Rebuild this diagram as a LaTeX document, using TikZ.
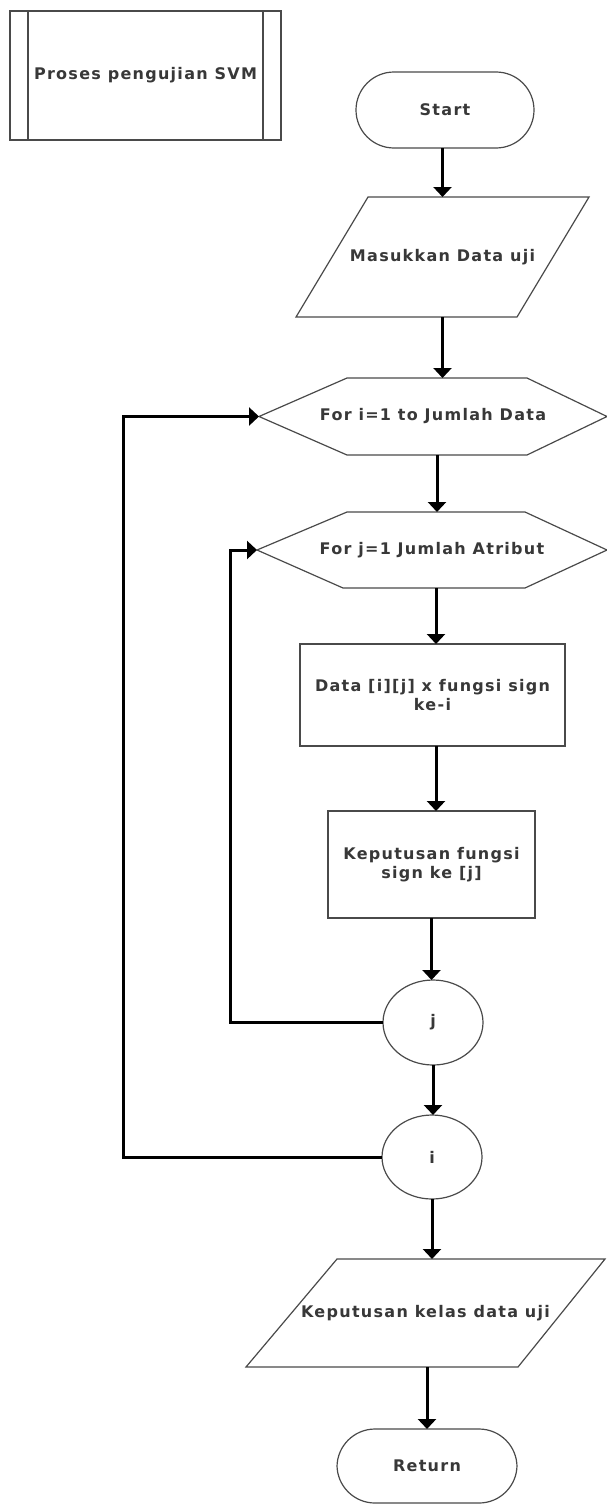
\documentclass[tikz,border=0pt]{standalone}
\usepackage{fontspec}
\newfontfamily\lblfont{DejaVu Sans}[LetterSpace=8]
\usetikzlibrary{arrows.meta,shapes.geometric}
\definecolor{edge}{HTML}{4A4A4A}
\definecolor{ink}{HTML}{383838}
\tikzset{
  base/.style={inner sep=0pt, outer sep=0pt, align=center, text=ink,
    font=\lblfont\bfseries\fontsize{16}{18.5}\selectfont},
  outline/.style={draw=edge, line width=1.2pt},
  box/.style={base, outline, rectangle},
  term/.style={base, outline, rectangle, rounded corners=38pt},
  conn/.style={base, outline, ellipse},
  flow/.style={line width=3pt, black,
    -{Triangle[length=10pt,width=18pt]}},
}
\begin{document}
\begin{tikzpicture}[x=1pt,y=-1pt]
\useasboundingbox (0,0) rectangle (607,1504);
\fill[white] (0,0) rectangle (607,1504);

% predefined process (subroutine header)
\node[box, minimum width=271, minimum height=129] (proc) at (145.5,75.5) {Proses pengujian SVM};
\draw[outline] ([xshift=18pt]proc.north west) -- ([xshift=18pt]proc.south west);
\draw[outline] ([xshift=-18pt]proc.north east) -- ([xshift=-18pt]proc.south east);

% terminator
\node[term, minimum width=178, minimum height=76] (start) at (445,110) {Start};

% input
\node[base, minimum width=293, minimum height=120] (inp) at (442.5,257) {Masukkan Data uji};
\draw[outline] ([xshift=72pt]inp.north west) -- (inp.north east)
  -- ([xshift=-72pt]inp.south east) -- (inp.south west) -- cycle;

% outer loop
\node[base, minimum width=348, minimum height=77] (hexi) at (433,416.5) {For i=1 to Jumlah Data};
\draw[outline] (hexi.west) -- ([xshift=88pt]hexi.north west) -- ([xshift=-80pt]hexi.north east)
  -- (hexi.east) -- ([xshift=-80pt]hexi.south east) -- ([xshift=88pt]hexi.south west) -- cycle;

% inner loop
\node[base, minimum width=350, minimum height=76] (hexj) at (432,550) {For j=1 Jumlah Atribut};
\draw[outline] (hexj.west) -- ([xshift=90pt]hexj.north west) -- ([xshift=-82pt]hexj.north east)
  -- (hexj.east) -- ([xshift=-82pt]hexj.south east) -- ([xshift=86pt]hexj.south west) -- cycle;

% processes
\node[box, minimum width=265, minimum height=102] (calc) at (432.5,695) {Data [i][j] x fungsi sign\\ke-i};
\node[box, minimum width=207, minimum height=107] (dec) at (431.5,864.5) {Keputusan fungsi\\sign ke [j]};

% loop ends
\node[conn, minimum width=100, minimum height=85] (nj) at (433,1022.5) {j};
\node[conn, minimum width=100, minimum height=84] (ni) at (432,1157) {i};

% output
\node[base, minimum width=359, minimum height=108] (outp) at (425.5,1313) {Keputusan kelas data uji};
\draw[outline] ([xshift=91pt]outp.north west) -- (outp.north east)
  -- ([xshift=-87pt]outp.south east) -- (outp.south west) -- cycle;

% terminator
\node[term, minimum width=180, minimum height=74] (ret) at (427,1466) {Return};

% main flow
\draw[flow] (inp.north |- start.south) -- (inp.north);
\draw[flow] (inp.south) -- (inp.south |- hexi.north);
\draw[flow] ([xshift=4pt]hexi.south) -- ([xshift=4pt]hexi.south |- hexj.north);
\draw[flow] ([xshift=4pt]hexj.south) -- ([xshift=4pt]hexj.south |- calc.north);
\draw[flow] ([xshift=3.5pt]calc.south) -- ([xshift=3.5pt]calc.south |- dec.north);
\draw[flow] (dec.south) -- (dec.south |- nj.north);
\draw[flow] (nj.south) -- (nj.south |- ni.north);
\draw[flow] (ni.south) -- (ni.south |- outp.north);
\draw[flow] (ret.north |- outp.south) -- (ret.north);

% loop-back connectors
\draw[flow] (nj.west) -- ++(-153,0) |- (hexj.west);
\draw[flow] (ni.west) -- ++(-259,0) |- (hexi.west);
\end{tikzpicture}
\end{document}
